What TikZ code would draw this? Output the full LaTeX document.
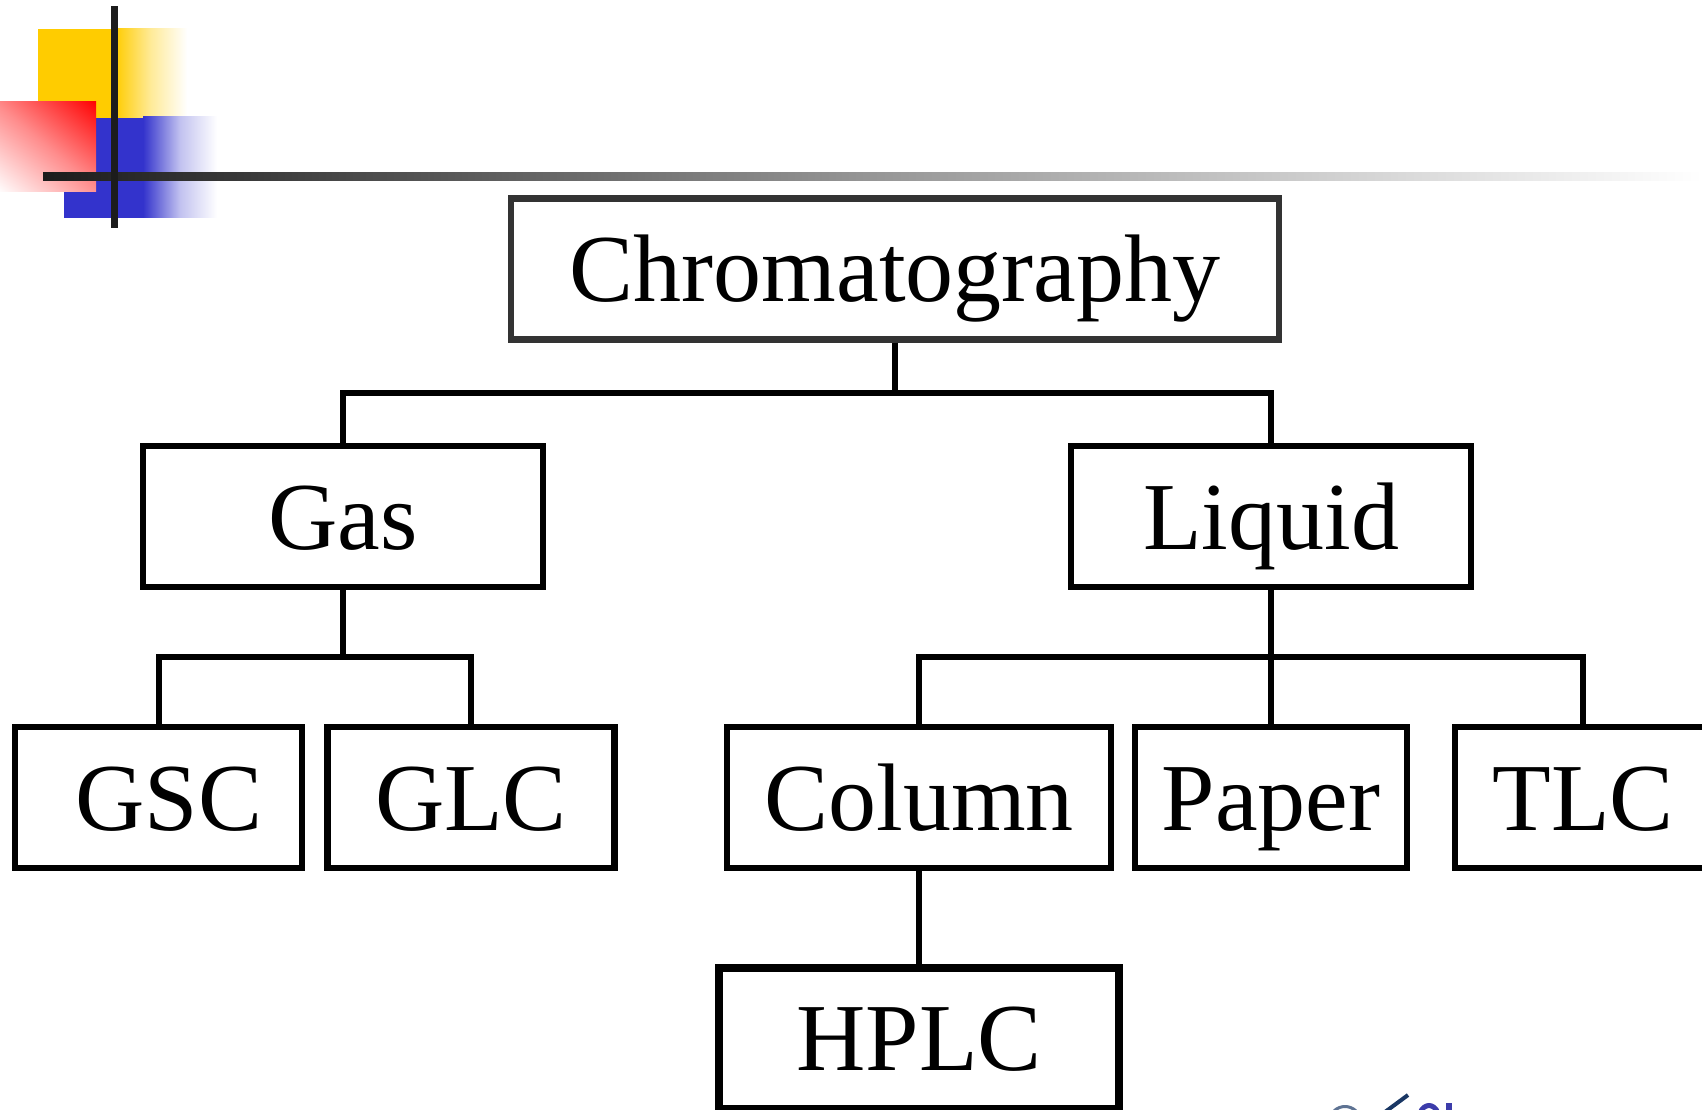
\documentclass[tikz,border=0pt]{standalone}
\usepackage{fontspec}
\setmainfont{Liberation Serif}
\tikzset{
  x=1pt,y=-1pt,
  catbox/.style={draw=black,line width=6.2pt,fill=white,inner sep=0pt,font=\fontsize{96}{96}\selectfont,text=black,text height=65.5pt,text depth=0pt,minimum height=141pt},
  link/.style={draw=black,line width=6pt}
}
\definecolor{ygold}{RGB}{255,204,0}
\definecolor{bblue}{RGB}{51,51,204}
\definecolor{barblack}{RGB}{28,28,28}
\definecolor{barmid}{RGB}{150,150,150}
\definecolor{boxgrey}{RGB}{51,51,51}
\definecolor{logonavy}{RGB}{25,55,100}
\definecolor{logoblue}{RGB}{60,60,170}
\begin{document}
\begin{tikzpicture}
\useasboundingbox (0,0) rectangle (1702,1110);
\fill[ygold] (38,29) rectangle (115,118);
\shade[left color=ygold,right color=white,middle color=ygold!40!white] (115,29) rectangle (187,118);
\fill[bblue] (64,118) rectangle (143,218);
\shade[left color=bblue,right color=white,middle color=bblue!30!white] (143,117) rectangle (217,218);
\begin{scope}
\clip (0,102) rectangle (96,192);
\shade[top color=red,bottom color=white,middle color=red!45!white,shading angle=-40] (-20,81) rectangle (116,213);
\end{scope}
\shade[left color=barblack,right color=white,middle color=barmid] (43,172.5) rectangle (1702,180.5);
\fill[barblack] (111,6) rectangle (118,228);
\node[catbox,draw=boxgrey,minimum width=768pt] (chrom) at (895,269) {Chromatography};
\node[catbox,minimum width=400pt] (gas) at (343,516.5) {Gas};
\node[catbox,minimum width=400pt] (liquid) at (1271,516.5) {Liquid};
\node[catbox,minimum width=287pt] (gsc) at (158.5,797.5) {\hspace*{21pt}GSC};
\node[catbox,minimum width=287pt] (glc) at (471,797.5) {GLC};
\node[catbox,minimum width=384pt] (column) at (919,797.5) {Column};
\node[catbox,minimum width=272pt] (paper) at (1271,797.5) {Paper};
\node[catbox,minimum width=256pt] (tlc) at (1583,797.5) {TLC};
\node[catbox,line width=8pt,minimum width=400pt] (hplc) at (919,1038) {HPLC};
\coordinate (hub) at (895,392.5);
\coordinate (gashub) at (343,657);
\coordinate (liqhub) at (1271,657);
\draw[link] (chrom.south) -- (hub);
\draw[link] (gas.north) |- (hub) -| (liquid.north);
\draw[link] (gas.south) -- (gashub);
\draw[link] (gsc.north) |- (gashub) -| (glc.north);
\draw[link] (liquid.south) -- (paper.north);
\draw[link] (column.north) |- (liqhub) -| (tlc.north);
\draw[link] (column.south) -- (hplc.north);
% clipped logo fragment at the lower edge
\draw[logonavy,line width=4pt] (1385,1112) -- (1408,1095);
\draw[logonavy!70,line width=3pt] (1334,1111) .. controls (1340,1105) and (1350,1105) .. (1356,1111);
\draw[logoblue,line width=5pt] (1420,1113) .. controls (1424,1103) and (1434,1103) .. (1438,1113);
\fill[logoblue] (1446,1103) rectangle (1452,1110);
\end{tikzpicture}
\end{document}
